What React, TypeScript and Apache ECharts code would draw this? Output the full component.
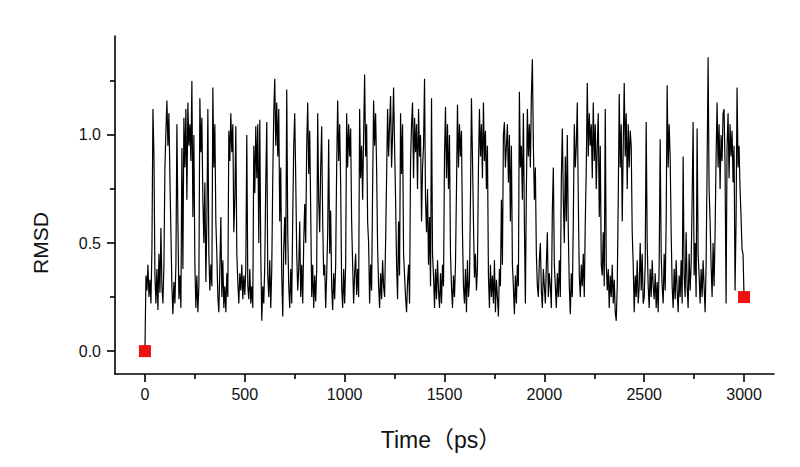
import React, { useEffect, useRef } from "react";
import * as echarts from "echarts";

// Sampling step of the trace (ps)
const TIME_STEP_PS = 5;

// RMSD values, one every 5 ps from 0 to 3000 ps (20 per row = 100 ps)
const rmsdValues = [
  0.00, 0.35, 0.28, 0.40, 0.25, 0.33, 0.22, 0.48, 1.12, 0.90, 0.35, 0.22, 0.38, 0.19, 0.45, 0.27, 0.57, 0.30, 0.22, 0.40,
  0.85, 1.02, 1.16, 0.95, 1.10, 0.80, 0.55, 0.30, 0.17, 0.32, 0.22, 0.40, 1.05, 0.60, 0.24, 0.35, 0.20, 0.94, 0.38, 1.08,
  0.85, 1.12, 0.70, 1.15, 0.95, 1.05, 0.88, 1.25, 0.62, 1.00, 0.40, 0.20, 0.35, 0.18, 0.30, 1.17, 0.92, 1.08, 0.70, 0.50,
  0.78, 0.32, 0.60, 1.12, 0.45, 0.28, 0.40, 0.30, 1.22, 0.85, 1.05, 0.60, 0.45, 0.25, 0.18, 0.38, 0.62, 0.25, 0.42, 0.20,
  0.30, 0.18, 0.36, 0.25, 1.02, 0.88, 1.10, 0.92, 1.05, 0.55, 0.70, 1.04, 0.45, 0.32, 0.22, 0.36, 0.28, 0.40, 0.24, 0.35,
  0.26, 0.38, 1.00, 0.30, 0.24, 0.38, 0.22, 0.30, 0.20, 0.95, 0.73, 1.04, 0.80, 1.05, 0.50, 1.07, 0.45, 0.14, 0.30, 0.22,
  0.40, 0.78, 1.06, 0.35, 0.25, 0.42, 0.20, 0.38, 0.80, 1.10, 1.26, 0.95, 1.15, 0.90, 1.12, 0.60, 0.85, 0.35, 0.16, 0.48,
  0.62, 0.40, 1.21, 0.55, 0.30, 0.20, 0.38, 0.22, 0.62, 0.95, 1.10, 0.80, 0.45, 0.28, 0.38, 0.60, 0.25, 0.40, 0.22, 0.50,
  0.68, 0.50, 0.95, 1.15, 0.82, 1.02, 0.65, 0.25, 0.40, 0.20, 0.35, 0.23, 0.38, 1.10, 0.70, 0.55, 0.85, 1.04, 0.60, 0.35,
  0.40, 0.20, 0.35, 0.55, 0.98, 0.45, 0.65, 0.30, 0.19, 0.36, 0.24, 0.40, 0.85, 1.16, 0.88, 1.05, 0.78, 0.30, 0.20, 0.38,
  0.22, 0.40, 1.10, 0.85, 1.05, 0.90, 1.03, 0.60, 0.40, 0.22, 0.36, 0.45, 0.26, 0.38, 0.25, 1.12, 0.80, 0.95, 0.70, 1.00,
  1.28, 0.90, 1.05, 0.60, 0.50, 0.22, 0.40, 0.28, 0.75, 1.16, 0.95, 1.10, 0.85, 0.48, 0.30, 0.20, 0.36, 0.24, 0.42, 0.30,
  0.25, 0.50, 0.80, 1.12, 0.90, 1.05, 1.18, 0.85, 1.00, 1.22, 0.95, 0.70, 0.40, 0.24, 0.60, 0.35, 1.10, 0.82, 1.05, 0.45,
  0.35, 0.25, 0.18, 0.32, 0.40, 0.22, 0.88, 1.05, 1.15, 0.80, 1.08, 0.92, 1.05, 0.75, 1.12, 0.90, 1.00, 0.60, 0.85, 0.95,
  1.26, 0.70, 0.55, 0.75, 0.40, 0.62, 0.30, 1.17, 0.45, 0.35, 0.20, 0.38, 0.24, 0.42, 0.28, 0.20, 0.36, 0.22, 0.40, 0.30,
  0.90, 1.13, 0.80, 1.05, 0.75, 1.00, 0.45, 0.30, 0.20, 0.35, 0.25, 0.40, 0.75, 1.14, 0.85, 1.05, 0.90, 1.02, 0.55, 0.30,
  0.22, 0.38, 0.18, 0.42, 0.25, 0.32, 0.70, 1.17, 0.90, 0.60, 0.34, 0.45, 0.28, 0.38, 0.85, 1.12, 0.90, 1.05, 0.80, 1.15,
  0.88, 1.02, 0.75, 0.95, 0.35, 0.20, 0.40, 0.25, 0.35, 0.22, 0.42, 0.18, 0.33, 0.25, 0.16, 0.38, 0.30, 0.70, 0.40, 1.00,
  1.06, 0.85, 0.95, 1.05, 0.78, 1.00, 0.60, 0.95, 0.40, 0.30, 0.17, 0.35, 0.22, 0.40, 0.30, 1.20, 0.85, 0.95, 0.70, 1.10,
  0.60, 0.22, 0.75, 1.12, 0.90, 1.05, 0.85, 1.18, 1.35, 0.95, 0.70, 0.85, 0.45, 0.30, 0.25, 0.42, 0.50, 0.28, 0.20, 0.38,
  0.30, 0.22, 0.40, 0.55, 0.25, 0.36, 0.30, 0.20, 0.65, 0.85, 0.40, 0.30, 0.20, 0.36, 0.25, 0.42, 0.25, 0.80, 1.03, 0.70,
  0.50, 0.90, 0.60, 1.00, 0.55, 0.30, 0.17, 0.36, 0.25, 0.60, 1.05, 0.85, 0.95, 1.15, 0.70, 0.35, 0.25, 0.40, 0.30, 0.45,
  0.25, 0.60, 0.85, 1.24, 0.90, 1.10, 0.95, 1.05, 0.80, 1.15, 0.88, 1.05, 0.75, 0.95, 1.10, 0.62, 0.95, 0.40, 0.35, 0.55,
  0.30, 1.12, 0.40, 0.28, 0.38, 0.20, 0.35, 0.25, 0.40, 0.22, 0.33, 0.18, 0.14, 0.30, 0.70, 1.19, 0.85, 1.05, 0.60, 0.95,
  1.24, 0.90, 1.10, 0.75, 1.05, 0.85, 1.02, 0.95, 0.55, 0.40, 0.18, 0.35, 0.25, 0.42, 0.22, 0.30, 0.50, 0.28, 0.45, 0.22,
  0.25, 0.40, 1.06, 0.50, 0.30, 0.20, 0.38, 0.25, 0.42, 0.30, 0.24, 0.36, 0.20, 0.32, 0.18, 0.40, 0.98, 0.45, 0.30, 0.22,
  0.45, 0.28, 0.60, 1.23, 0.85, 1.05, 0.90, 0.55, 0.30, 0.20, 0.38, 0.24, 0.42, 0.28, 0.18, 0.35, 0.25, 0.42, 0.22, 0.90,
  0.35, 0.25, 0.55, 0.30, 0.20, 0.45, 0.28, 0.40, 0.70, 1.06, 0.35, 0.50, 0.25, 1.03, 0.45, 0.35, 0.22, 0.38, 0.25, 0.42,
  0.30, 0.18, 0.40, 0.85, 1.36, 0.75, 0.60, 0.40, 0.25, 0.50, 0.30, 0.55, 0.90, 1.15, 0.85, 1.05, 0.75, 1.00, 0.88, 1.10,
  1.12, 0.85, 0.22, 0.95, 1.10, 0.80, 1.05, 0.90, 1.02, 0.78, 0.95, 0.28, 0.60, 1.22, 0.85, 0.95, 0.75, 0.62, 0.47, 0.45,
  0.25,
];

// Red square markers (first and last frame)
const markerTimes = [0, 3000];
const markerValues = [0, 0.25];

// Axis ticks
const xTickValues = [0, 500, 1000, 1500, 2000, 2500, 3000];
const xMinorTickValues = [250, 750, 1250, 1750, 2250, 2750];
const yTickValues = [0, 0.5, 1.0];
const yMinorTickValues = [0.25, 0.75, 1.25];

const xAxisTitle = "Time（ps）";
const yAxisTitle = "RMSD";

export default function App() {
  const ref = useRef<HTMLDivElement>(null);

  useEffect(() => {
    document.body.style.margin = "0";
    const chart = echarts.init(ref.current as HTMLDivElement, null, { renderer: "svg" });

    const lineData = rmsdValues.map((v, i) => [i * TIME_STEP_PS, v]);
    const markerData = markerTimes.map((t, i) => [t, markerValues[i]]);

    const font = "'Liberation Sans', Arial, 'Noto Sans CJK SC', sans-serif";
    const axisLineStyle = { color: "#000", width: 1.6 };
    const xRange = { min: -150, max: 3150 };
    const yRange = { min: -0.106, max: 1.458 };

    chart.setOption({
      animation: false,
      backgroundColor: "#ffffff",
      grid: { left: 115, right: 26, top: 36, bottom: 93 },
      xAxis: [
        {
          type: "value",
          ...xRange,
          position: "bottom",
          axisLine: { show: true, onZero: false, lineStyle: axisLineStyle },
          axisTick: { show: true, customValues: xTickValues, length: 8, lineStyle: axisLineStyle },
          axisLabel: {
            show: true,
            customValues: xTickValues,
            margin: 12,
            color: "#111",
            fontSize: 16,
            fontFamily: font,
            formatter: (v: number) => String(v),
          },
          splitLine: { show: false },
        },
        {
          type: "value",
          ...xRange,
          position: "bottom",
          axisLine: { show: false, onZero: false },
          axisTick: { show: true, customValues: xMinorTickValues, length: 5, lineStyle: axisLineStyle },
          axisLabel: { show: false },
          splitLine: { show: false },
        },
      ],
      yAxis: [
        {
          type: "value",
          ...yRange,
          position: "left",
          axisLine: { show: true, onZero: false, lineStyle: axisLineStyle },
          axisTick: { show: true, customValues: yTickValues, length: 8, lineStyle: axisLineStyle },
          axisLabel: {
            show: true,
            customValues: yTickValues,
            margin: 14,
            color: "#111",
            fontSize: 16,
            fontFamily: font,
            formatter: (v: number) => v.toFixed(1),
          },
          splitLine: { show: false },
        },
        {
          type: "value",
          ...yRange,
          position: "left",
          axisLine: { show: false, onZero: false },
          axisTick: { show: true, customValues: yMinorTickValues, length: 5, lineStyle: axisLineStyle },
          axisLabel: { show: false },
          splitLine: { show: false },
        },
      ],
      series: [
        {
          type: "line",
          xAxisIndex: 0,
          yAxisIndex: 0,
          data: lineData,
          showSymbol: false,
          symbol: "none",
          lineStyle: { color: "#000", width: 1.2 },
          z: 2,
        },
        {
          type: "scatter",
          xAxisIndex: 0,
          yAxisIndex: 0,
          data: markerData,
          symbol: "rect",
          symbolSize: 12,
          itemStyle: { color: "#ee1111", opacity: 1 },
          z: 3,
        },
      ],
      graphic: [
        {
          type: "text",
          x: 441,
          y: 440,
          style: {
            text: xAxisTitle,
            fontSize: 23,
            fontFamily: font,
            fill: "#111",
            align: "center",
            verticalAlign: "middle",
          },
        },
        {
          type: "text",
          x: 40,
          y: 243,
          rotation: Math.PI / 2,
          style: {
            text: yAxisTitle,
            fontSize: 21,
            fontFamily: font,
            fill: "#111",
            align: "center",
            verticalAlign: "middle",
          },
        },
      ],
    });

    return () => {
      chart.dispose();
    };
  }, []);

  return (
    <div
      ref={ref}
      style={{ position: "fixed", left: 0, top: 0, width: 800, height: 467, background: "#fff" }}
    />
  );
}
